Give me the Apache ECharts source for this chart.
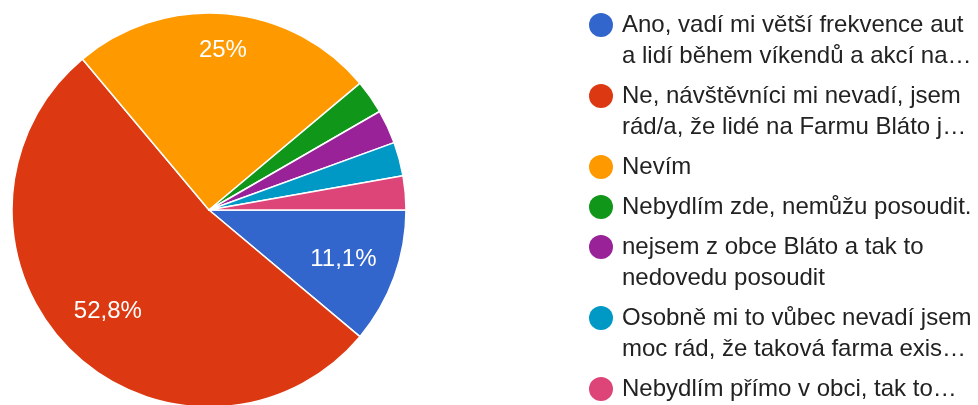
<!DOCTYPE html>
<html>
<head>
<meta charset="utf-8">
<script src="https://cdn.jsdelivr.net/npm/echarts@6/dist/echarts.min.js"></script>
<style>
  html, body { margin: 0; padding: 0; background: #fff; }
  #chart { width: 978px; height: 405px; }
</style>
</head>
<body>
<div id="chart"></div>
<script>
// odpovědi (počet respondentů, celkem 36)
const answerLines = [
  ['Ano, vadí mi větší frekvence aut', 'a lidí během víkendů a akcí na…'],
  ['Ne, návštěvníci mi nevadí, jsem', 'rád/a, že lidé na Farmu Bláto j…'],
  ['Nevím'],
  ['Nebydlím zde, nemůžu posoudit.'],
  ['nejsem z obce Bláto a tak to', 'nedovedu posoudit'],
  ['Osobně mi to vůbec nevadí jsem', 'moc rád, že taková farma exis…'],
  ['Nebydlím přímo v obci, tak to…']
];
const counts = [4, 19, 9, 1, 1, 1, 1];
const colors = ['#3366cc', '#dc3912', '#ff9900', '#109618', '#992299', '#0099c6', '#dd4477'];

const names = answerLines.map(l => l.join(' '));
const total = counts.reduce((a, b) => a + b, 0);
const font = '"Liberation Sans", Arial, sans-serif';

const chart = echarts.init(document.getElementById('chart'));

const rich = {
  t: { fontSize: 24, lineHeight: 31, color: '#222', fontFamily: font, verticalAlign: 'middle' },
  g: { width: 9 },
  s: { width: 33 }
};
colors.forEach((c, i) => {
  rich['d' + i] = { width: 24, height: 24, borderRadius: 12, backgroundColor: c, verticalAlign: 'middle' };
});

const pctText = v => {
  const s = (v / total * 100).toFixed(1).replace('.', ',');
  return s.replace(/,0$/, '') + '%';
};

// popisky: velké výseče, orange (Nevím) o něco dál od středu
const labelSeries = (radius, show) => ({
  type: 'pie',
  center: [209, 210],
  radius: radius,
  startAngle: 0,
  clockwise: true,
  silent: true,
  itemStyle: { color: 'rgba(0,0,0,0)' },
  labelLine: { show: false },
  label: {
    show: true,
    position: 'inside',
    color: '#fff',
    fontSize: 24,
    fontFamily: font,
    formatter: p => show(p.dataIndex) ? pctText(p.value) : ''
  },
  data: names.map((n, i) => ({ name: n, value: counts[i] }))
});

chart.setOption({
  animation: false,
  legend: {
    orient: 'vertical',
    left: 584,
    top: 13,
    padding: 0,
    itemGap: 16,
    itemWidth: 0,
    itemHeight: 24,
    icon: 'none',
    selectedMode: false,
    data: names,
    textStyle: { rich: rich },
    formatter: function (name) {
      const i = names.indexOf(name);
      const lines = answerLines[i];
      let s = '{d' + i + '|}{g|}{t|' + lines[0] + '}';
      for (let k = 1; k < lines.length; k++) s += '\n{s|}{t|' + lines[k] + '}';
      return s;
    }
  },
  series: [
    {
      type: 'pie',
      center: [209, 210],
      radius: 197,
      startAngle: 0,
      clockwise: true,
      silent: true,
      itemStyle: { borderColor: '#fff', borderWidth: 1.5 },
      label: { show: false },
      labelLine: { show: false },
      data: names.map((n, i) => ({ name: n, value: counts[i], itemStyle: { color: colors[i] } }))
    },
    labelSeries([83, 197], i => i === 0 || i === 1),
    labelSeries([117, 197], i => i === 2)
  ]
});
</script>
</body>
</html>
